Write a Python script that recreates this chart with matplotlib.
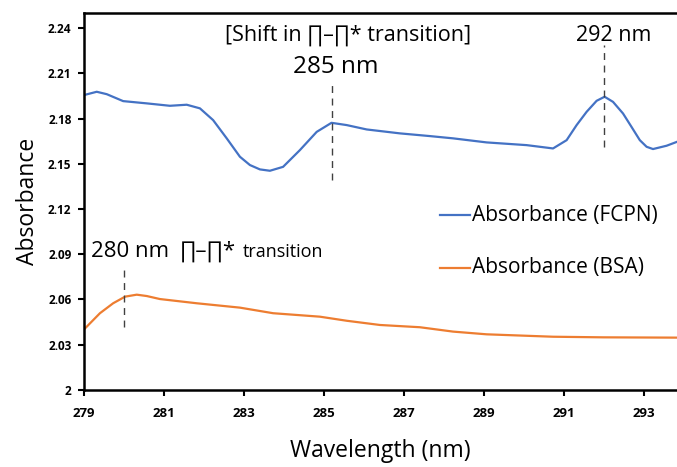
import numpy as np
from matplotlib import pyplot as plt

# values
wl_fcpn = [279.0, 279.32, 279.57, 279.98, 280.57, 281.15, 281.57, 281.9, 282.23, 282.57,
           282.9, 283.15, 283.4, 283.65, 283.98, 284.4, 284.82, 285.19, 285.57, 286.07,
           286.9, 287.65, 288.23, 289.07, 290.07, 290.73, 291.07, 291.32, 291.57, 291.82,
           292.02, 292.23, 292.48, 292.69, 292.9, 293.07, 293.23, 293.57, 293.83]
abs_fcpn = [2.1956, 2.1978, 2.1962, 2.1916, 2.1901, 2.1885, 2.1892, 2.1868, 2.1790, 2.1669,
            2.1547, 2.1492, 2.1463, 2.1454, 2.1480, 2.1591, 2.1712, 2.1772, 2.1757, 2.1728,
            2.1702, 2.1684, 2.1669, 2.1642, 2.1624, 2.1602, 2.1657, 2.1757, 2.1845, 2.1918,
            2.1945, 2.1911, 2.1834, 2.1746, 2.1657, 2.1613, 2.1598, 2.1620, 2.1646]

wl_bsa = [279.03, 279.4, 279.73, 280.03, 280.32, 280.57, 280.9, 281.82, 282.9, 283.73,
          284.9, 285.57, 286.4, 287.4, 288.23, 289.07, 290.73, 291.98, 293.83]
abs_bsa = [2.0409, 2.0509, 2.0575, 2.0619, 2.0632, 2.0623, 2.0603, 2.0575, 2.0546, 2.0509,
           2.0486, 2.0459, 2.0431, 2.0416, 2.0387, 2.0369, 2.0353, 2.0349, 2.0347]

x_ticks = [279, 281, 283, 285, 287, 289, 291, 293]
y_ticks = [2, 2.03, 2.06, 2.09, 2.12, 2.15, 2.18, 2.21, 2.24]
y_labels = ['2', '2.03', '2.06', '2.09', '2.12', '2.15', '2.18', '2.21', '2.24']

plt.rcParams['font.family'] = ['Open Sans', 'DejaVu Sans']

fig = plt.figure(figsize=(6.77, 4.67), dpi=100)
ax = fig.add_axes([0.124, 0.165, 0.876, 0.807])

ax.plot(wl_fcpn, abs_fcpn, color='#4472C4', lw=1.6)
ax.plot(wl_bsa, abs_bsa, color='#ED7D31', lw=1.6)

ax.set_xlim(279, 293.83)
ax.set_ylim(2, 2.25)
ax.set_xticks(x_ticks)
ax.set_yticks(y_ticks)
ax.set_yticklabels(y_labels)
for lab in ax.get_xticklabels():
    lab.set_fontweight('bold')
    lab.set_fontsize(9.5)
for lab in ax.get_yticklabels():
    lab.set_fontweight('bold')
    lab.set_fontsize(8.5)
ax.tick_params(direction='out', length=4, width=1.5)
ax.tick_params(axis='x', pad=8)
ax.tick_params(axis='y', pad=5)

for s in ['left', 'bottom', 'top']:
    ax.spines[s].set_linewidth(1.8)
ax.spines['right'].set_visible(False)

ax.set_xlabel('Wavelength (nm)', fontsize=16.5, labelpad=14)
ax.set_ylabel('Absorbance', fontsize=16.5, labelpad=6)

# dashed markers at the peaks
dash = dict(color='#404040', lw=1.0, ls=(0, (5, 4)))
ax.plot([285.2, 285.2], [2.139, 2.2055], **dash)
ax.plot([292.0, 292.0], [2.161, 2.2287], **dash)
ax.plot([280.0, 280.0], [2.0418, 2.0829], **dash)

ax.text(285.6, 2.2354, '[Shift in \u220f\u2013\u220f* transition]', fontsize=15.5,
        ha='center', va='center')
ax.text(285.3, 2.2145, '285 nm', fontsize=17.5, ha='center', va='center')
ax.text(292.25, 2.2354, '292 nm', fontsize=15.5, ha='center', va='center')
ax.text(280.15, 2.0882, '280 nm', fontsize=16, ha='center', va='baseline')
ax.text(281.4, 2.0882, '\u220f\u2013\u220f*', fontsize=16, ha='left', va='baseline')
ax.text(282.98, 2.0882, 'transition', fontsize=13, ha='left', va='baseline')

# legend entries placed like the original
ax.plot([287.9, 288.65], [2.116, 2.116], color='#4472C4', lw=1.6)
ax.text(288.7, 2.116, 'Absorbance (FCPN)', fontsize=15, va='center')
ax.plot([287.9, 288.65], [2.0809, 2.0809], color='#ED7D31', lw=1.6)
ax.text(288.7, 2.0809, 'Absorbance (BSA)', fontsize=15, va='center')

fig.savefig('out.png', dpi=100)
